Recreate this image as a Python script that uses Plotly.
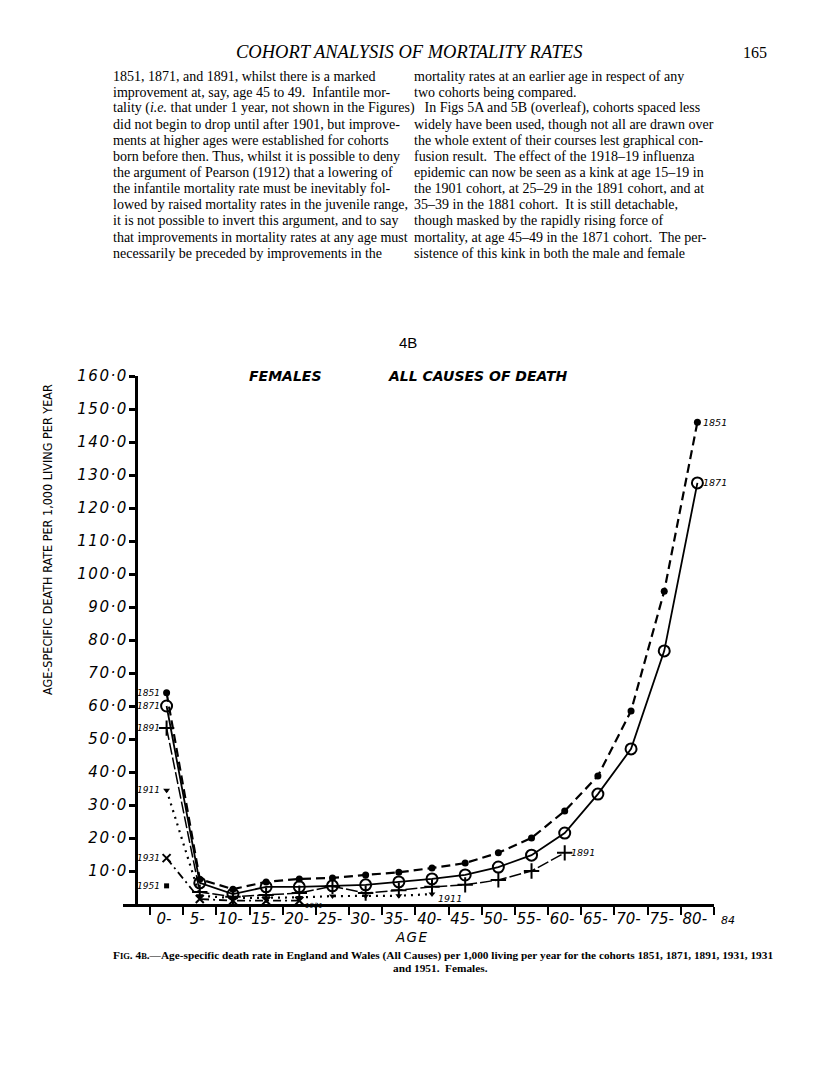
import plotly.graph_objects as go

# age groups (start of each 5-year band) and plotting positions (band centres)
AGE_TICKS = [0, 5, 10, 15, 20, 25, 30, 35, 40, 45, 50, 55, 60, 65, 70, 75, 80, 85]
AGE_TICK_TEXT = ["0-", "5-", "10-", "15-", "20-", "25-", "30-", "35-", "40-", "45-",
                 "50-", "55-", "60-", "65-", "70-", "75-", "80-", "<span style='font-size:11px'>84</span>"]
AGE_MID = [2.5, 7.5, 12.5, 17.5, 22.5, 27.5, 32.5, 37.5, 42.5, 47.5,
           52.5, 57.5, 62.5, 67.5, 72.5, 77.5, 82.5]

# death rate per 1,000 living per year
C1851 = [64.0, 7.5, 4.5, 6.7, 7.6, 7.9, 8.8, 9.6, 10.9, 12.4, 15.5, 20.0, 28.2, 38.8, 58.5, 94.8, 146.0]
C1871 = [60.0, 6.4, 3.0, 5.2, 5.2, 5.5, 5.8, 6.7, 7.6, 8.8, 11.2, 14.8, 21.5, 33.3, 47.0, 76.7, 127.6]
C1891 = [53.3, 3.6, 2.2, 2.7, 3.3, 5.4, 3.3, 4.2, 5.2, 5.8, 7.3, 10.0, 15.5]
C1911 = [34.5, 2.5, 1.8, 1.9, 2.0, 2.4, 2.4, 2.5, 3.0]
C1931 = [13.9, 1.5, 1.0, 1.0, 1.0]
C1951 = [5.5]

Y_TICKS = [10, 20, 30, 40, 50, 60, 70, 80, 90, 100, 110, 120, 130, 140, 150, 160]
# hair spaces between characters to mimic the wide lettering of the original
Y_TICK_TEXT = ["\u200a".join(f"{v}·0") for v in Y_TICKS]

LEFT_COL = [
    "1851, 1871, and 1891, whilst there is a marked",
    "improvement at, say, age 45 to 49.  Infantile mor-",
    "tality (<i>i.e.</i> that under 1 year, not shown in the Figures)",
    "did not begin to drop until after 1901, but improve-",
    "ments at higher ages were established for cohorts",
    "born before then. Thus, whilst it is possible to deny",
    "the argument of Pearson (1912) that a lowering of",
    "the infantile mortality rate must be inevitably fol-",
    "lowed by raised mortality rates in the juvenile range,",
    "it is not possible to invert this argument, and to say",
    "that improvements in mortality rates at any age must",
    "necessarily be preceded by improvements in the",
]
RIGHT_COL = [
    "mortality rates at an earlier age in respect of any",
    "two cohorts being compared.",
    "   In Figs 5A and 5B (overleaf), cohorts spaced less",
    "widely have been used, though not all are drawn over",
    "the whole extent of their courses lest graphical con-",
    "fusion result.  The effect of the 1918–19 influenza",
    "epidemic can now be seen as a kink at age 15–19 in",
    "the 1901 cohort, at 25–29 in the 1891 cohort, and at",
    "35–39 in the 1881 cohort.  It is still detachable,",
    "though masked by the rapidly rising force of",
    "mortality, at age 45–49 in the 1871 cohort.  The per-",
    "sistence of this kink in both the male and female",
]

# page body has an 8px margin, so the figure is 16px smaller than the window
OFF = 8
W, H = 816 - 2 * OFF, 1090 - 2 * OFF
L, R, T, B = 123 - OFF, 714 - OFF, 376 - OFF, 904 - OFF


def px(x, y):
    # window pixel -> paper coords
    return (x - OFF - L) / (R - L), (B - (y - OFF)) / (B - T)


fig = go.Figure()

SERIES = [
    ("1851", C1851, dict(symbol="circle", size=7, color="black"), dict(dash="9px,5px", width=2.2)),
    ("1871", C1871, dict(symbol="circle-open", size=11, color="black", line=dict(width=2)), dict(dash="solid", width=1.8)),
    ("1891", C1891, dict(symbol="cross-thin-open", size=11, color="black", line=dict(width=2)), dict(dash="12px,3px", width=1.5)),
    ("1911", C1911, dict(symbol="triangle-down", size=6, color="black"), dict(dash="2px,5px", width=2.2)),
    ("1931", C1931, dict(symbol="x-thin-open", size=8, color="black", line=dict(width=2)), dict(dash="8px,4px,2px,4px", width=1.8)),
    ("1951", C1951, dict(symbol="square", size=5, color="black"), dict(width=0)),
]

for name, vals, marker, line in SERIES:
    fig.add_trace(go.Scatter(
        x=AGE_MID[:len(vals)], y=vals, name=name,
        mode="lines+markers" if len(vals) > 1 else "markers",
        marker=marker, line=dict(color="black", **line),
        cliponaxis=False, showlegend=False,
    ))

lab_font = dict(family="DejaVu Sans", size=9, color="black", style="italic")
# cohort labels at the start of each curve
for name, vals in [("1851", C1851), ("1871", C1871), ("1891", C1891),
                   ("1911", C1911), ("1931", C1931), ("1951", C1951)]:
    fig.add_annotation(x=AGE_MID[0], y=vals[0], text=name, showarrow=False,
                       xanchor="right", yanchor="middle", xshift=-5, font=lab_font)
# labels at the end of the curves
for name, vals, dy, sz in [("1851", C1851, 0, 9.5), ("1871", C1871, 0, 9.5), ("1891", C1891, 0, 9.5),
                           ("1911", C1911, -4, 9.5), ("1931", C1931, -5, 7)]:
    fig.add_annotation(x=AGE_MID[len(vals) - 1], y=vals[-1], text=name, showarrow=False,
                       xanchor="left", yanchor="middle", xshift=4, yshift=dy,
                       font=dict(lab_font, size=sz))

ann = []
serif = "Liberation Serif, Times New Roman, serif"
x0, y0 = px(409, 52)
ann.append(dict(x=x0, y=y0, text="COHORT ANALYSIS OF MORTALITY RATES",
                font=dict(family=serif, size=18.5, style="italic")))
x0, y0 = px(769, 52)
ann.append(dict(x=x0, y=y0, text="165", xanchor="right", font=dict(family=serif, size=16)))

for i, (lt, rt) in enumerate(zip(LEFT_COL, RIGHT_COL)):
    yy = 76 + i * 16.1
    x0, y0 = px(111, yy)
    ann.append(dict(x=x0, y=y0, text=lt, xanchor="left", font=dict(family=serif, size=14)))
    x0, y0 = px(412, yy)
    ann.append(dict(x=x0, y=y0, text=rt, xanchor="left", font=dict(family=serif, size=14)))

x0, y0 = px(408, 342)
ann.append(dict(x=x0, y=y0, text="4B", font=dict(family="Liberation Sans Narrow, Liberation Sans", size=15)))

head = dict(family="DejaVu Sans", size=14, style="italic", weight="bold")
x0, y0 = px(285, 376)
ann.append(dict(x=x0, y=y0, text="FEMALES", font=head))
x0, y0 = px(478, 376)
ann.append(dict(x=x0, y=y0, text="ALL CAUSES OF DEATH", font=head))

x0, y0 = px(47, 540)
ann.append(dict(x=x0, y=y0, text="AGE-SPECIFIC DEATH RATE PER 1,000 LIVING PER YEAR", textangle=-90,
                font=dict(family="Liberation Sans Narrow, DejaVu Sans Condensed, Liberation Sans", size=12.5)))

x0, y0 = px(411, 937)
ann.append(dict(x=x0, y=y0, text="A\u200aG\u200aE", font=dict(family="DejaVu Sans", size=13.5, style="italic")))

x0, y0 = px(111, 955)
ann.append(dict(x=x0, y=y0, xanchor="left",
                text="<b>F<span style='font-size:8.5px'>IG</span>. 4<span style='font-size:8.5px'>B</span>.—Age-specific death rate in England and Wales (All Causes) per 1,000 living per year for the cohorts 1851, 1871, 1891, 1931, 1931</b>",
                font=dict(family=serif, size=11.3)))
x0, y0 = px(441, 968)
ann.append(dict(x=x0, y=y0, text="<b>and 1951.  Females.</b>", font=dict(family=serif, size=11.3)))

for a in ann:
    a.update(xref="paper", yref="paper", showarrow=False, yanchor="middle")
    a.setdefault("xanchor", "center")
    a["font"].setdefault("color", "black")
    fig.add_annotation(**a)

tick_font = dict(family="DejaVu Sans", size=15, color="black", style="italic")
fig.update_layout(
    width=W, height=H,
    margin=dict(l=L, r=W - R, t=T, b=H - B, pad=0),
    paper_bgcolor="white", plot_bgcolor="white",
    xaxis=dict(range=[-4.07, 85], tickvals=AGE_TICKS, ticktext=AGE_TICK_TEXT,
               ticks="outside", ticklen=8, tickwidth=2, tickcolor="black",
               showline=True, linewidth=2.5, linecolor="black",
               showgrid=False, zeroline=False, tickfont=tick_font,
               ticklabelshift=14, ticklabelstandoff=-9),
    yaxis=dict(range=[0, 160], tickvals=Y_TICKS, ticktext=Y_TICK_TEXT,
               anchor="free", position=(136 - OFF - L) / (R - L),
               ticks="outside", ticklen=6, tickwidth=2.5, tickcolor="black",
               showline=True, linewidth=2.5, linecolor="black",
               showgrid=False, zeroline=False, tickfont=tick_font),
)

fig.write_html("out.html")
